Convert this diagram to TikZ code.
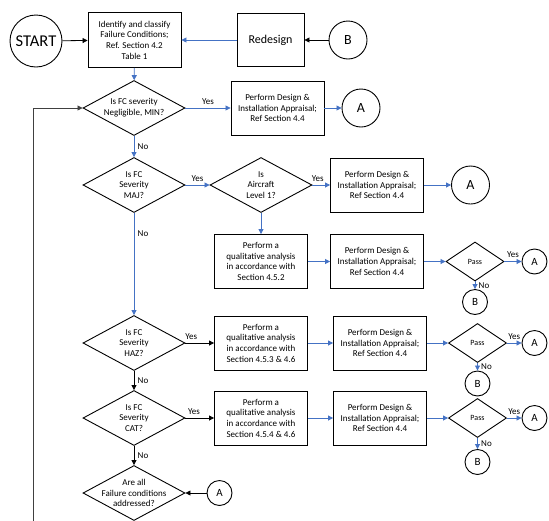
\documentclass[tikz,border=0pt]{standalone}
\usepackage{fontspec}
\setmainfont{Carlito}
\usepackage{xcolor}
\usetikzlibrary{shapes.geometric,arrows.meta}
\definecolor{flowblue}{HTML}{4472C4}

\begin{document}
\begin{tikzpicture}[x=1pt,y=1pt,
    font=\fontsize{9}{10.7}\selectfont,
    box/.style={draw, line width=0.9pt, align=center, inner sep=1pt,
        minimum width=93pt, minimum height=54pt},
    dia/.style={draw, diamond, line width=0.9pt, inner sep=0pt,
        minimum width=102pt, minimum height=55pt},
    pass/.style={draw, diamond, line width=0.9pt, inner sep=0pt,
        minimum width=58pt, minimum height=39pt, font=\fontsize{8}{8}\selectfont},
    term/.style={draw, circle, line width=0.9pt, inner sep=0pt,
        minimum size=52pt, font=\fontsize{16.5}{16.5}\selectfont},
    conn/.style={draw, circle, line width=0.9pt, inner sep=0pt,
        minimum size=38pt, font=\fontsize{14}{14}\selectfont},
    sconn/.style={conn, minimum size=25pt, font=\fontsize{11}{11}\selectfont},
    bl/.style={draw=flowblue, line width=0.8pt, -{Triangle[length=5pt,width=5pt]}},
    bk/.style={draw=black, line width=0.8pt, -{Triangle[length=5pt,width=5pt]}},
    dlabel/.style={align=center}
    ]
    \useasboundingbox (0,0) rectangle (549,-520);

    % top row
    \node[term] (start) at (36,-41) {START};
    \node[box, minimum height=55pt] (ident) at (134.5,-40)
        {Identify and classify\\Failure Conditions;\\Ref. Section 4.2\\Table 1};
    \node[box, minimum width=67pt, minimum height=53pt,
        font=\fontsize{12}{12}\selectfont] (redesign) at (270.5,-40) {Redesign};
    \node[conn] (b0) at (348,-40) {B};

    % negligible / minor
    \node[dia, label={[dlabel]center:{Is FC severity\\Negligible, MIN?}}] (neg) at (134,-108) {};
    \node[box] (app1) at (277.5,-108) {Perform Design \&\\Installation Appraisal;\\Ref Section 4.4};
    \node[conn] (a1) at (361,-108) {A};

    % major
    \node[dia, label={[dlabel]center:{Is FC\\Severity\\MAJ?}}] (maj) at (134,-185) {};
    \node[dia, label={[dlabel]center:{Is\\Aircraft\\Level 1?}}] (lvl) at (261,-185) {};
    \node[box] (app2) at (377,-185) {Perform Design \&\\Installation Appraisal;\\Ref Section 4.4};
    \node[conn] (a2) at (470.5,-185) {A};
    \node[box] (qual1) at (261,-261.5) {Perform a\\qualitative analysis\\in accordance with\\Section 4.5.2};
    \node[box] (app3) at (377,-261.5) {Perform Design \&\\Installation Appraisal;\\Ref Section 4.4};
    \node[pass] (pass1) at (475,-261.5) {Pass};
    \node[sconn] (a3) at (534.5,-261.5) {A};
    \node[sconn] (b1) at (475,-302) {B};

    % hazardous
    \node[dia, label={[dlabel]center:{Is FC\\Severity\\HAZ?}}] (haz) at (134,-343) {};
    \node[box] (qual2) at (261,-343) {Perform a\\qualitative analysis\\in accordance with\\Section 4.5.3 \& 4.6};
    \node[box] (app4) at (380,-343) {Perform Design \&\\Installation Appraisal;\\Ref Section 4.4};
    \node[pass] (pass2) at (477.5,-343) {Pass};
    \node[sconn] (a4) at (534.5,-343) {A};
    \node[sconn] (b2) at (477.5,-383.5) {B};

    % catastrophic
    \node[dia, label={[dlabel]center:{Is FC\\Severity\\CAT?}}] (cat) at (134,-418) {};
    \node[box] (qual3) at (261,-418) {Perform a\\qualitative analysis\\in accordance with\\Section 4.5.4 \& 4.6};
    \node[box] (app5) at (380,-418) {Perform Design \&\\Installation Appraisal;\\Ref Section 4.4};
    \node[pass] (pass3) at (477.5,-418) {Pass};
    \node[sconn] (a5) at (534.5,-418) {A};
    \node[sconn] (b3) at (477.5,-462) {B};

    % all addressed
    \node[dia, label={[dlabel]center:{Are all\\Failure conditions\\addressed?}}] (fin) at (134,-493) {};
    \node[sconn] (a6) at (219.5,-493) {A};
    \coordinate (loopbot) at (33,-524);
    \coordinate (looptop) at (33,-108);

    % connectors
    \draw[bk] (start) -- (ident);
    \draw[bl] (redesign) -- (ident);
    \draw[bk] (b0) -- (redesign);
    \draw[bl] (ident) -- (neg);
    \draw[bl] (neg) -- node[above]{Yes} (app1);
    \draw[bl] (app1) -- (a1);
    \draw[bl] (neg) -- node[right]{No} (maj);
    \draw[bk, draw=black!75] (loopbot) -- (looptop) -- (neg.west);

    \draw[bl] (maj) -- node[above]{Yes} (lvl);
    \draw[bl] (lvl) -- node[above, pos=0.3]{Yes} (app2);
    \draw[bl] (app2) -- (a2);
    \draw[bl] (lvl) -- (qual1);
    \draw[bl] (qual1) -- (app3);
    \draw[bl] (app3) -- (pass1);
    \draw[bl] (pass1) -- node[above]{Yes} (a3);
    \draw[bl] (pass1) -- node[right]{No} (b1);
    \draw[bl] (maj) -- node[right, pos=0.2]{No} (haz);

    \draw[bk] (haz) -- node[above, pos=0.2]{Yes} (qual2);
    \draw[bl] (qual2) -- (app4);
    \draw[bl] (app4) -- (pass2);
    \draw[bl] (pass2) -- node[above]{Yes} (a4);
    \draw[bl] (pass2) -- node[right]{No} (b2);
    \draw[bk] (haz) -- node[right]{No} (cat);

    \draw[bk] (cat) -- node[above, pos=0.3]{Yes} (qual3);
    \draw[bl] (qual3) -- (app5);
    \draw[bl] (app5) -- (pass3);
    \draw[bl] (pass3) -- node[above]{Yes} (a5);
    \draw[bl] (pass3) -- node[right]{No} (b3);
    \draw[bk] (cat) -- node[right]{No} (fin);
    \draw[bk] (a6) -- (fin);
\end{tikzpicture}
\end{document}
